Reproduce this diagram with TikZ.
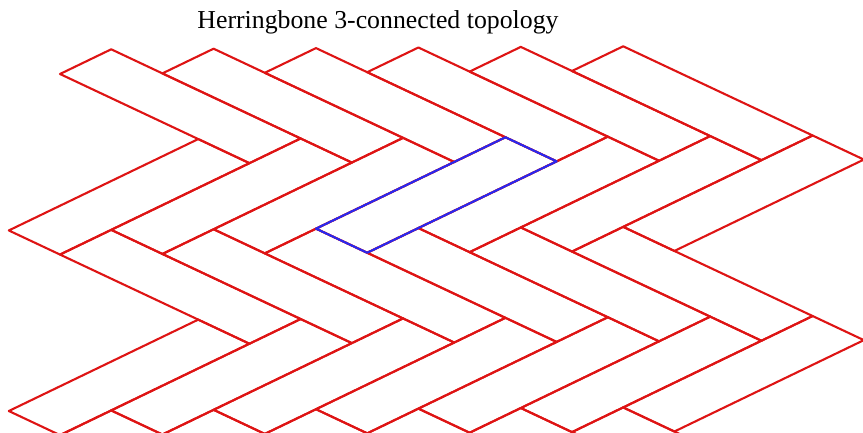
\documentclass[tikz,border=0pt]{standalone}
\usepackage{fontspec}
\setmainfont{Liberation Serif}

\definecolor{brickred}{RGB}{222,20,20}
\definecolor{brickblue}{RGB}{40,40,240}

\tikzset{
  brick/.style={brickred, line width=2.1pt},
  pickbrick/.style={brickblue, line width=2.1pt}
}

\begin{document}
\begin{tikzpicture}[line cap=round, line join=round, x=1pt, y=1pt]
	% Window bounds
	\def\xmax{863} \def\ymax{433}
	\useasboundingbox (0,0) rectangle (\xmax,-\ymax);
	
	% Title
	\node[anchor=base, font=\fontsize{25.8}{30}\selectfont] (title) at (378,-29)
	{Herringbone 3-connected topology};
	
	% Brick length, in brick widths
	\def\len{3.7}
	
	% Scope to clip the pattern at the window
	\begin{scope}
		\clip (0,0) rectangle (\xmax,-\ymax);
		
		% Skewed frame: x runs down the long side, y up the short side
		\begin{scope}[shift={(60,-74)}, x={(51.2pt,-24.1pt)}, y={(51.2pt,24.7pt)}]
			
			% Three bands of chevrons, one under the other
			\foreach \b in {0,1,2}{
				\begin{scope}[shift={(\b*\len,-\b*\len)}]
					% bricks running down to the right
					\foreach \k in {0,...,5}
					\draw[brick] (\k,\k) -- (\k+\len,\k) -- (\k+\len,\k+1) -- (\k,\k+1) -- cycle;
					% bricks running up to the right
					\foreach \k in {0,...,6}
					\draw[brick] (\k+\len-1,\k-\len) -- (\k+\len,\k-\len) -- (\k+\len,\k) -- (\k+\len-1,\k) -- cycle;
				\end{scope}
			}
			
			% One brick picked out in blue
			\draw[pickbrick] (\len+2,3-\len) -- (\len+3,3-\len) -- (\len+3,3) -- (\len+2,3) -- cycle;
		\end{scope}
	\end{scope}
\end{tikzpicture}
\end{document}
